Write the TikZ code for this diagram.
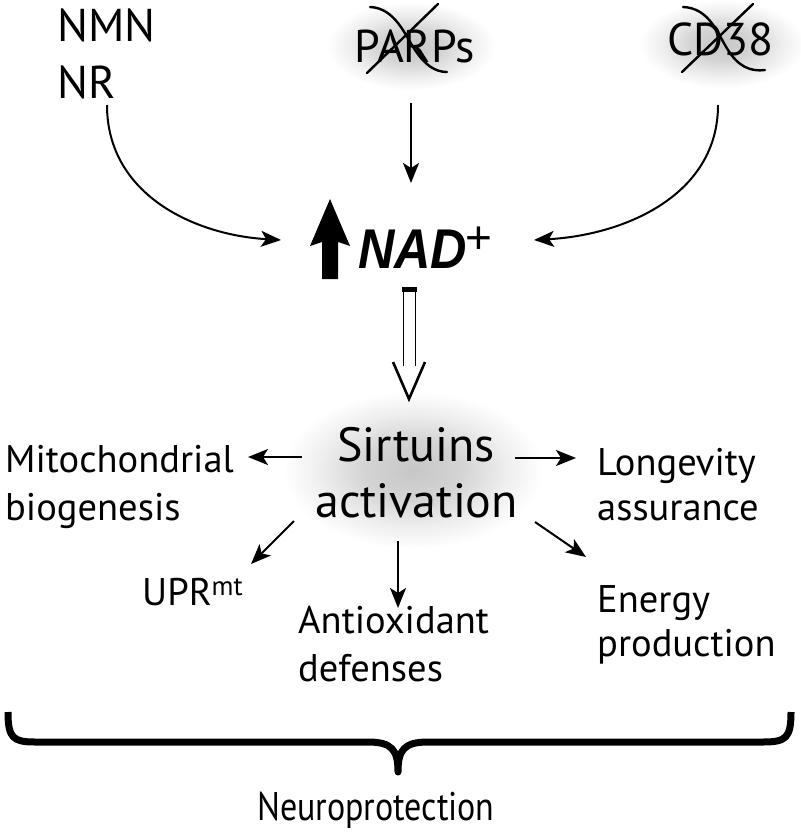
\documentclass[tikz,border=0pt]{standalone}
\usepackage{fontspec}
\setmainfont{PT Sans}
\newfontfamily\nadfont{Liberation Sans}
\usetikzlibrary{arrows.meta}
\pgfdeclareradialshading{glow}{\pgfpoint{0bp}{0bp}}{color(0bp)=(black!22); color(9bp)=(black!17); color(17bp)=(black!7); color(24bp)=(white); color(50bp)=(white)}
\begin{document}
\begin{tikzpicture}[x=1pt,y=-1pt,
  lbl/.style={inner sep=0pt, anchor=base west, font=\fontsize{38.5}{40}\selectfont},
  biglbl/.style={inner sep=0pt, anchor=base west, font=\fontsize{46}{48}\selectfont},
  arr/.style={line width=2pt, -{Stealth[length=20pt,width=16pt,inset=5pt]}},
  crossline/.style={line width=2.4pt, line cap=round}]
\useasboundingbox (0,0) rectangle (800,834);
% glows
\shade[shading=glow] (411,46) ellipse (88 and 46);
\shade[shading=glow] (722,44) ellipse (86 and 46);
\shade[shading=glow] (413,470) ellipse (135 and 82);
% top labels
\node[biglbl] (nmn) at (57,42) {NMN};
\node[biglbl] (nr) at (57,99) {NR};
\node[biglbl] (parps) at (354,63) {PARPs};
\node[biglbl] (cd38) at (667,56) {CD38};
% crosses
\draw[crossline] (438,4) -- (367,73);
\draw[crossline] (370,7) .. controls (395,8) and (405,35) .. (415,50) .. controls (425,65) and (435,72) .. (447,72);
\draw[crossline] (753,4) -- (682,72);
\draw[crossline] (683,7) .. controls (710,8) and (718,35) .. (728,50) .. controls (738,66) and (750,72) .. (765,70);
% NAD+
\fill (322,279) -- (322,242) -- (310,246) -- (330,199) -- (350,246) -- (338,242) -- (338,279) -- cycle;
\node[inner sep=0pt, anchor=base west, xscale=0.9] (nad) at (358,268) {\fontsize{56}{58}\nadfont\bfseries\itshape NAD};
\node[inner sep=0pt, anchor=center] (plus) at (478.5,240.5) {\fontsize{46}{48}\nadfont\selectfont +};
% connectors into NAD+
\coordinate (nrend) at (107,105);
\coordinate (nadL) at (281,240);
\coordinate (cdstart) at (718,105);
\coordinate (nadR) at (534,240);
\coordinate (parpsend) at (411,103);
\coordinate (nadT) at (411,183);
\draw[arr] (nrend) .. controls (107,195) and (195,235) .. (nadL);
\draw[arr] (cdstart) .. controls (718,195) and (625,235) .. (nadR);
\draw[arr] (parpsend) -- (nadT);
% hollow arrow
\fill (402,287) rectangle (417,292);
\draw[line width=1.6pt] (403.5,366) -- (403.5,290) -- (415.5,290) -- (415.5,366);
\draw[line width=2.6pt] (393,362) -- (409,399) -- (425,362);
% sirtuins
\node[inner sep=0pt, anchor=base west, font=\fontsize{48}{50}\selectfont] (sirt) at (337,461) {Sirtuins};
\node[inner sep=0pt, anchor=base west, font=\fontsize{48}{50}\selectfont] (act) at (315,517) {activation};
% outputs
\node[lbl] (mito) at (5,472) {Mitochondrial};
\node[lbl] (bio) at (5,520) {biogenesis};
\node[lbl] (longv) at (597,475) {Longevity};
\node[lbl] (assur) at (597,520) {assurance};
\node[lbl] (upr) at (142,605) {UPR\textsuperscript{mt}};
\node[lbl] (anti) at (298,633) {Antioxidant};
\node[lbl] (def) at (298,681) {defenses};
\node[lbl] (energy) at (597,612) {Energy};
\node[lbl] (prod) at (597,656) {production};
% arrows from sirtuins
\coordinate (sL) at (302,457);
\coordinate (mitoE) at (248,457);
\coordinate (sR) at (515,458);
\coordinate (longW) at (576,458);
\coordinate (sDL) at (294,521);
\coordinate (uprE) at (251,564);
\coordinate (sD) at (398,541);
\coordinate (antiN) at (398,608);
\coordinate (sDR) at (535,522);
\coordinate (enN) at (586,557);
\draw[arr] (sL) -- (mitoE);
\draw[arr] (sR) -- (longW);
\draw[arr] (sDL) -- (uprE);
\draw[arr] (sD) -- (antiN);
\draw[arr] (sDR) -- (enN);
% brace
\draw[line width=7pt, line join=round] (8,712) .. controls (8,738) and (13,742) .. (35,742) -- (368,742) .. controls (392,742) and (398,750) .. (398,772) .. controls (398,750) and (404,742) .. (428,742) -- (763,742) .. controls (786,742) and (791,738) .. (791,712);
\node[inner sep=0pt, anchor=base west, xscale=0.85, font=\fontsize{40}{42}\selectfont] (neuro) at (257,820) {Neuroprotection};
\end{tikzpicture}
\end{document}
